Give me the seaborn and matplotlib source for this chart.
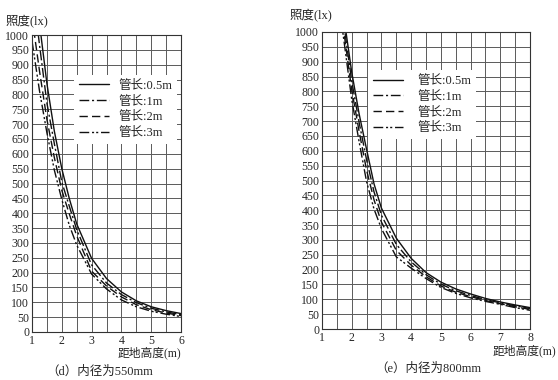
import pandas as pd
import matplotlib.pyplot as plt
import seaborn as sns
from matplotlib.ticker import MultipleLocator

# pipe lengths (legend) and line styles
labels = ["管长:0.5m", "管长:1m", "管长:2m", "管长:3m"]
dash_list = ["", (7, 2, 1.5, 2), (6, 3), (7, 2, 1.5, 1.5, 1.5, 2)]

# (d) inner diameter 550mm
h_d = [1.0, 1.25, 1.5, 1.75, 2.0, 2.25, 2.5, 3.0, 3.5, 4.0, 4.5, 5.0, 5.5, 6.0]
lux_d_05 = [1300, 1040, 837, 676, 550, 450, 364, 248, 180, 135, 105, 85, 72, 62]
lux_d_1 = [1180, 968, 771, 634, 505, 424, 345, 226, 165, 126, 99, 80, 68, 58]
lux_d_2 = [1060, 880, 716, 587, 477, 398, 324, 205, 155, 118, 92, 75, 64, 55]
lux_d_3 = [980, 813, 671, 545, 446, 360, 293, 195, 145, 108, 85, 70, 60, 52]

# (e) inner diameter 800mm
h_e = [1.5, 1.75, 2.0, 2.25, 2.5, 2.75, 3.0, 3.5, 4.0, 4.5, 5.0, 5.5, 6.0, 6.5, 7.0, 7.5, 8.0]
lux_e_05 = [1200, 1040, 865, 724, 605, 489, 407, 306, 238, 190, 158, 135, 118, 103, 91, 81, 72]
lux_e_1 = [1180, 1015, 835, 695, 570, 462, 383, 285, 226, 183, 151, 129, 113, 99, 88, 78, 69]
lux_e_2 = [1165, 990, 805, 665, 535, 435, 360, 265, 215, 176, 145, 124, 109, 96, 85, 75, 66]
lux_e_3 = [1150, 962, 773, 630, 496, 404, 338, 243, 205, 170, 140, 120, 105, 93, 83, 72, 63]


def long_df(h, series):
    rows = []
    for lab, vals in zip(labels, series):
        for x, y in zip(h, vals):
            rows.append({"h": x, "lux": y, "pipe": lab})
    return pd.DataFrame(rows)


df_d = long_df(h_d, [lux_d_05, lux_d_1, lux_d_2, lux_d_3])
df_e = long_df(h_e, [lux_e_05, lux_e_1, lux_e_2, lux_e_3])

sns.set_style("white")
plt.rcParams["font.family"] = ["Liberation Serif", "Noto Sans CJK SC", "DejaVu Sans"]

fig = plt.figure(figsize=(5.58, 3.8), dpi=100)
ax1 = fig.add_axes([32 / 558, 48 / 380, 149 / 558, 297 / 380])
ax2 = fig.add_axes([322 / 558, 51 / 380, 208 / 558, 297 / 380])

dashes = dict(zip(labels, dash_list))

for ax, df, xmax, anchor, gap in [(ax1, df_d, 6, (1.015, 0.887), 0.7),
                                  (ax2, df_e, 8, (0.77, 0.893), 1.1)]:
    sns.lineplot(data=df, x="h", y="lux", style="pipe", style_order=labels,
                 dashes=dashes, color="#111111", linewidth=1.0, ax=ax)
    ax.set_xlim(1, xmax)
    ax.set_ylim(0, 1000)
    ax.xaxis.set_major_locator(MultipleLocator(1))
    ax.xaxis.set_minor_locator(MultipleLocator(0.5))
    ax.yaxis.set_major_locator(MultipleLocator(50))
    ax.grid(True, which="both", color="#5a5a5a", linewidth=0.7)
    ax.set_axisbelow(True)
    ax.tick_params(length=0, labelsize=8.5, pad=2)
    for s in ax.spines.values():
        s.set_color("#333333")
        s.set_linewidth(0.8)
    ax.set_xlabel("")
    ax.set_ylabel("")
    handles, labs = ax.get_legend_handles_labels()
    leg = ax.legend(handles, labs, frameon=True, fontsize=9, handlelength=2.4,
                    handletextpad=gap, labelspacing=0.3, borderpad=0.4,
                    loc="upper right", bbox_to_anchor=anchor)
    leg.get_frame().set_edgecolor("none")
    leg.get_frame().set_facecolor("white")
    leg.get_frame().set_alpha(1)

fig.text(5 / 558, 1 - 22 / 380, "照度(lx)", fontsize=9, va="center")
fig.text(290 / 558, 1 - 16 / 380, "照度(lx)", fontsize=9, va="center")
fig.text(181 / 558, 1 - 353 / 380, "距地高度(m)", fontsize=8.5, ha="right", va="center")
fig.text(556 / 558, 1 - 351 / 380, "距地高度(m)", fontsize=8.5, ha="right", va="center")
fig.text(100 / 558, 1 - 372 / 380, "（d）内径为550mm", fontsize=9, ha="center", va="center")
fig.text(428 / 558, 1 - 369 / 380, "（e）内径为800mm", fontsize=9, ha="center", va="center")

fig.savefig("out.png", dpi=100, facecolor="white")
